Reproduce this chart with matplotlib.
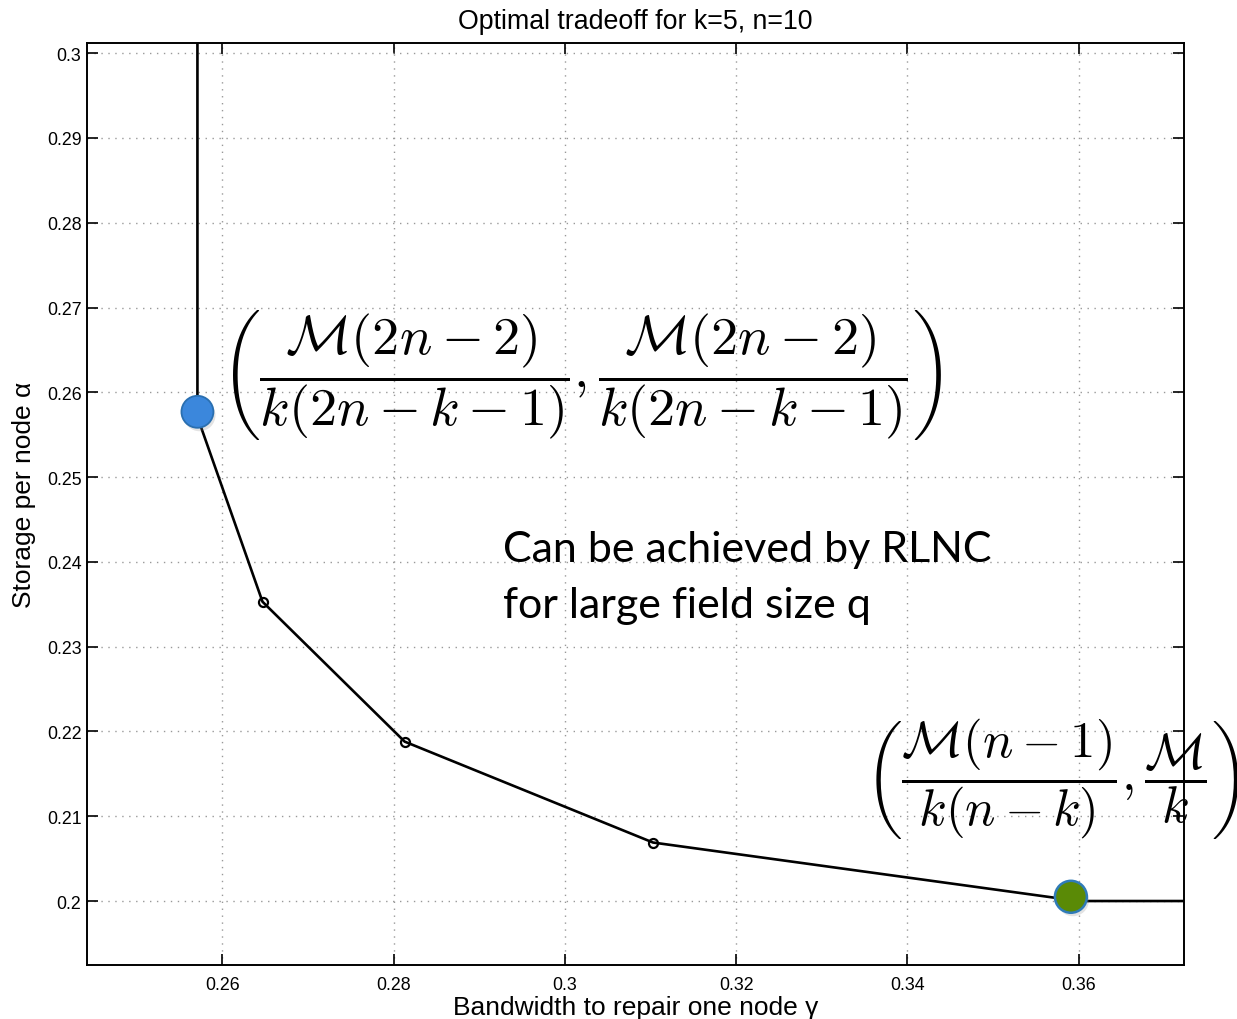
import matplotlib

matplotlib.use("Agg")
import matplotlib.pyplot as plt
import matplotlib.patheffects as pe

# corner points of the storage / repair-bandwidth tradeoff (k=5, n=10, M=1)
gamma = [0.2571, 0.2647, 0.2813, 0.3103, 0.3600]
alpha = [0.2571, 0.2353, 0.2188, 0.2069, 0.2000]
# highlighted end points as placed on the slide (MBR, MSR)
mbr_pt = (0.2571, 0.2577)
msr_pt = (0.3591, 0.2005)

xticks = [0.26, 0.28, 0.30, 0.32, 0.34, 0.36]
xtick_labels = ["0.26", "0.28", "0.3", "0.32", "0.34", "0.36"]
yticks = [0.20, 0.21, 0.22, 0.23, 0.24, 0.25, 0.26, 0.27, 0.28, 0.29, 0.30]
ytick_labels = ["0.2", "0.21", "0.22", "0.23", "0.24", "0.25", "0.26",
                "0.27", "0.28", "0.29", "0.3"]

plt.rcParams["mathtext.fontset"] = "cm"
plt.rcParams["font.family"] = ["Liberation Sans", "DejaVu Sans"]

fig = plt.figure(figsize=(12.37, 10.2), dpi=100)
ax = fig.add_axes([0.0703, 0.0529, 0.8868, 0.9040])

xlim = (0.2442, 0.3723)
ylim = (0.19245, 0.3012)

# the curve runs straight up from the MBR corner and flat right from the MSR corner
xs = [gamma[0]] + gamma + [xlim[1] + 0.01]
ys = [ylim[1] + 0.01] + alpha + [alpha[-1]]
ax.plot(xs, ys, color="black", lw=1.9, zorder=3)
ax.plot(gamma[1:-1], alpha[1:-1], ls="none", marker="o", ms=6.5,
        mfc="none", mec="black", mew=1.6, zorder=4)

shadow = [pe.SimplePatchShadow(offset=(1.5, -2.5), alpha=0.22, shadow_rgbFace="gray"),
          pe.Normal()]
ax.plot(*mbr_pt, ls="none", marker="o", ms=23, mfc="#3b87dc",
        mec="#2a6fb0", mew=1.3, zorder=5, path_effects=shadow)
ax.plot(*msr_pt, ls="none", marker="o", ms=23, mfc="#5a8a06",
        mec="#2f7bb8", mew=1.8, zorder=5, path_effects=shadow)

ax.set_xlim(*xlim)
ax.set_ylim(*ylim)
ax.set_xticks(xticks)
ax.set_xticklabels(xtick_labels)
ax.set_yticks(yticks)
ax.set_yticklabels(ytick_labels)
ax.tick_params(direction="in", length=8, width=1.2, top=True, right=True,
               labelsize=12.8)
ax.tick_params(axis="x", pad=8)
ax.tick_params(axis="y", pad=4)
ax.grid(True, ls=(0, (1, 4)), color="#999999", lw=1)
for s in ax.spines.values():
    s.set_linewidth(1.4)

ax.set_title("Optimal tradeoff for k=5, n=10", fontsize=19.3, pad=11)
ax.set_xlabel("Bandwidth to repair one node γ", fontsize=19, labelpad=1)
ax.set_ylabel("Storage per node α", fontsize=19)
ax.yaxis.set_label_coords(-0.0465, 0.511)

ax.text(0.2598, 0.2621,
        r"$\left(\dfrac{\mathcal{M}(2n-2)}{k(2n-k-1)},\dfrac{\mathcal{M}(2n-2)}{k(2n-k-1)}\right)$",
        fontsize=39, ha="left", va="center", zorder=6)
ax.text(0.3350, 0.2145,
        r"$\left(\dfrac{\mathcal{M}(n-1)}{k(n-k)},\dfrac{\mathcal{M}}{k}\right)$",
        fontsize=36.5, ha="left", va="center", zorder=6, clip_on=False)
ax.text(0.2928, 0.2382, "Can be achieved by RLNC\nfor large field size q",
        fontsize=31, family=["Lato", "DejaVu Sans"], ha="left", va="center",
        linespacing=1.6, zorder=6)

fig.savefig("out.png", dpi=100)
